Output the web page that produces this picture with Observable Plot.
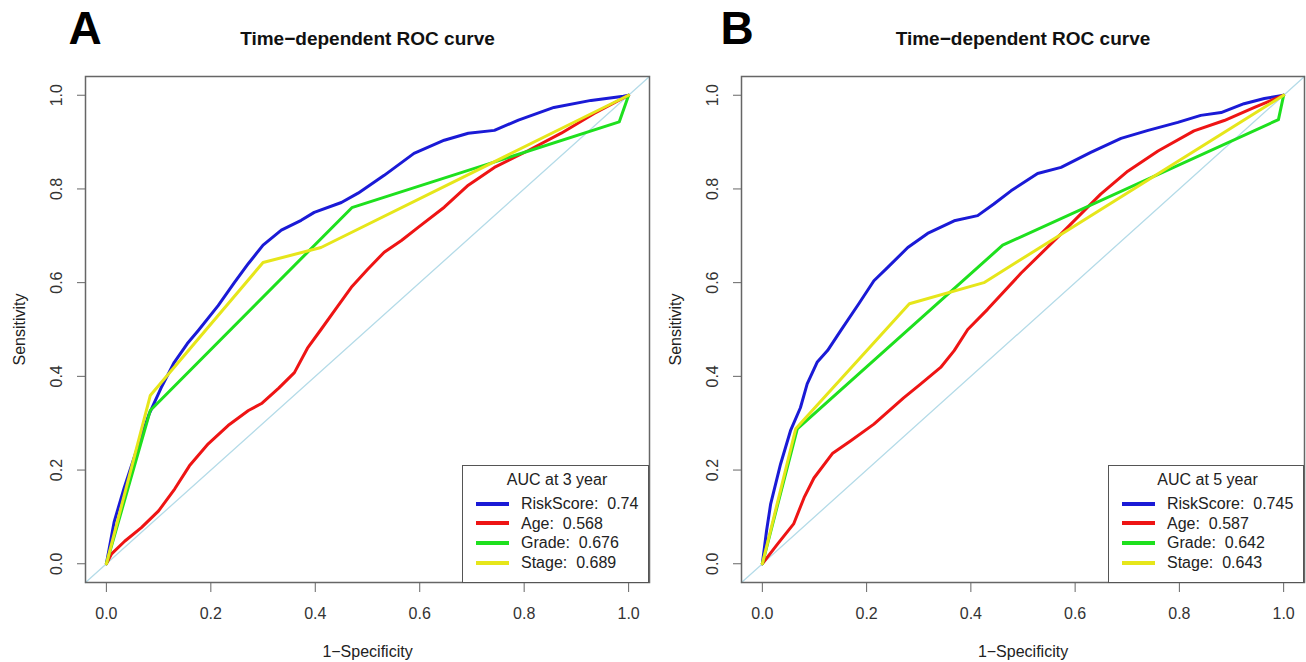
<!DOCTYPE html>
<html><head><meta charset="utf-8">
<script src="https://cdn.jsdelivr.net/npm/d3@7"></script>
<script src="https://cdn.jsdelivr.net/npm/@observablehq/plot@0.6"></script>
<style>
body{margin:0;background:#fff;font-family:"Liberation Sans",Arial,sans-serif;}
#root{position:relative;width:1306px;height:662px;overflow:hidden;background:#fff;}
.panel{position:absolute;top:0;}
.legend{position:absolute;background:#fff;border:1.5px solid #555;box-sizing:border-box;color:#222;font-size:16px;}
.legend .ttl{text-align:center;line-height:20px;height:20px;}
.legend .row{line-height:19.7px;height:19.7px;white-space:pre;}
.legend .sw{display:inline-block;width:33px;height:4px;vertical-align:middle;margin-right:12px;position:relative;top:-1px;}
</style></head><body><div id="root"></div>
<script>
// ---- data ----
const series = ["RiskScore", "Age", "Grade", "Stage"];
const seriesColors = ["#1a1ad6", "#ee1414", "#1ee01e", "#e6e61a"];
const xTicks = [0, 0.2, 0.4, 0.6, 0.8, 1.0];
const yTicks = [0, 0.2, 0.4, 0.6, 0.8, 1.0];
const axisDomain = [-0.04, 1.04];

const aucA = [0.74, 0.568, 0.676, 0.689];
const aucB = [0.745, 0.587, 0.642, 0.643];

// Panel A (3 year): [1-specificity, sensitivity]
const riskScoreA = [[0,0],[0.015,0.09],[0.034,0.162],[0.06,0.25],[0.082,0.32],[0.105,0.376],[0.13,0.43],[0.155,0.47],[0.176,0.498],[0.214,0.551],[0.245,0.6],[0.272,0.641],[0.30,0.68],[0.335,0.712],[0.373,0.733],[0.398,0.75],[0.45,0.771],[0.482,0.791],[0.532,0.829],[0.589,0.876],[0.647,0.904],[0.693,0.919],[0.743,0.925],[0.789,0.947],[0.857,0.974],[0.928,0.989],[0.99,0.998],[1,1]];
const ageA = [[0,0],[0.01,0.021],[0.035,0.048],[0.067,0.077],[0.10,0.113],[0.131,0.16],[0.159,0.209],[0.195,0.256],[0.233,0.295],[0.272,0.327],[0.297,0.342],[0.33,0.375],[0.36,0.408],[0.385,0.46],[0.411,0.50],[0.44,0.545],[0.469,0.59],[0.50,0.628],[0.532,0.665],[0.565,0.69],[0.597,0.718],[0.647,0.761],[0.693,0.808],[0.743,0.846],[0.808,0.882],[0.871,0.919],[0.934,0.961],[1,1]];
const gradeA = [[0,0],[0.084,0.327],[0.47,0.76],[0.982,0.943],[1,1]];
const stageA = [[0,0],[0.084,0.359],[0.30,0.643],[0.411,0.675],[1,1]];

// Panel B (5 year)
const riskScoreB = [[0,0],[0.008,0.07],[0.016,0.128],[0.035,0.213],[0.054,0.284],[0.073,0.333],[0.086,0.384],[0.105,0.43],[0.125,0.455],[0.15,0.497],[0.185,0.555],[0.214,0.604],[0.24,0.632],[0.279,0.675],[0.317,0.705],[0.368,0.732],[0.413,0.743],[0.444,0.768],[0.477,0.796],[0.528,0.833],[0.573,0.846],[0.63,0.878],[0.688,0.908],[0.74,0.925],[0.797,0.942],[0.841,0.957],[0.88,0.963],[0.924,0.982],[0.963,0.993],[1,1]];
const ageB = [[0,0],[0.029,0.042],[0.06,0.085],[0.08,0.141],[0.099,0.183],[0.135,0.236],[0.169,0.262],[0.214,0.298],[0.271,0.354],[0.304,0.384],[0.342,0.419],[0.368,0.455],[0.394,0.5],[0.432,0.543],[0.496,0.62],[0.573,0.704],[0.649,0.789],[0.701,0.838],[0.759,0.881],[0.828,0.924],[0.886,0.946],[0.944,0.974],[1,1]];
const gradeB = [[0,0],[0.067,0.288],[0.461,0.68],[0.99,0.948],[1,1]];
const stageB = [[0,0],[0.064,0.288],[0.282,0.555],[0.425,0.6],[1,1]];

const panels = [
  {label:"A", left:0, width:653, marginRight:4, year:3, curves:[riskScoreA, ageA, gradeA, stageA], auc:aucA, legendW:187},
  {label:"B", left:656, width:650, marginRight:2, year:5, curves:[riskScoreB, ageB, gradeB, stageB], auc:aucB, legendW:196}
];

const root = document.getElementById("root");
const FONT = '"Liberation Sans", Arial, sans-serif';

for (const p of panels) {
  const rows = series.flatMap((s, i) => p.curves[i].map(([x, y]) => ({series: s, x, y})));
  const chart = Plot.plot({
    width: p.width, height: 662,
    marginLeft: 85, marginRight: p.marginRight, marginTop: 76, marginBottom: 80,
    x: {domain: axisDomain, axis: null},
    y: {domain: axisDomain, axis: null},
    color: {domain: series, range: seriesColors},
    style: {fontFamily: FONT, background: "#fff", color: "#333", overflow: "visible"},
    marks: [
      Plot.line(axisDomain, {x: d => d, y: d => d, stroke: "#b4dbe8", strokeWidth: 1.3}),
      Plot.line(rows, {x: "x", y: "y", z: "series", stroke: "series", strokeWidth: 3, strokeLinejoin: "round", strokeLinecap: "round"}),
      Plot.frame({stroke: "#666", strokeWidth: 1.5}),
      Plot.axisX({ticks: xTicks, tickSize: 10, tickPadding: 15, tickFormat: d => d.toFixed(1), fontSize: 16, label: null, stroke: "#666"}),
      Plot.axisY({ticks: yTicks, tickSize: 8, tickFormat: () => "", label: null, stroke: "#666"}),
      Plot.text(yTicks, {y: d => d, text: d => d.toFixed(1), frameAnchor: "left", dx: -29, rotate: -90, textAnchor: "middle", lineAnchor: "middle", fontSize: 16, fill: "#333"}),
      Plot.text(["Sensitivity"], {text: d => d, frameAnchor: "left", dx: -66, rotate: -90, textAnchor: "middle", lineAnchor: "middle", fontSize: 16, fill: "#222"}),
      Plot.text(["1\u2212Specificity"], {text: d => d, frameAnchor: "bottom", dy: 69, textAnchor: "middle", lineAnchor: "middle", fontSize: 16, fill: "#222"}),
      Plot.text(["Time\u2212dependent ROC curve"], {text: d => d, frameAnchor: "top", dy: -38, textAnchor: "middle", lineAnchor: "middle", fontSize: 19, fontWeight: "bold", fill: "#111"}),
      Plot.text([p.label], {text: d => d, frameAnchor: "top-left", dx: p.label === "A" ? -17 : -21, dy: -47, textAnchor: "start", lineAnchor: "middle", fontSize: 46, fontWeight: "bold", fill: "#000"})
    ]
  });
  const wrap = document.createElement("div");
  wrap.className = "panel";
  wrap.style.left = p.left + "px";
  wrap.appendChild(chart);
  root.appendChild(wrap);

  // legend (bottom-right of plot region)
  const frameRight = p.left + p.width - p.marginRight;
  const lg = document.createElement("div");
  lg.className = "legend";
  lg.style.left = (frameRight - p.legendW) + "px";
  lg.style.top = "465px";
  lg.style.width = p.legendW + "px";
  lg.style.height = "117.5px";
  lg.style.padding = "4px 4px 0 13px";
  const t = document.createElement("div");
  t.className = "ttl";
  t.style.marginLeft = "-6px";
  t.textContent = `AUC at ${p.year} year`;
  lg.appendChild(t);
  const body = document.createElement("div");
  body.style.marginTop = "4px";
  series.forEach((s, i) => {
    const r = document.createElement("div");
    r.className = "row";
    const sw = document.createElement("span");
    sw.className = "sw";
    sw.style.background = seriesColors[i];
    r.appendChild(sw);
    r.appendChild(document.createTextNode(`${s}:  ${p.auc[i]}`));
    body.appendChild(r);
  });
  lg.appendChild(body);
  root.appendChild(lg);
}
</script></body></html>
